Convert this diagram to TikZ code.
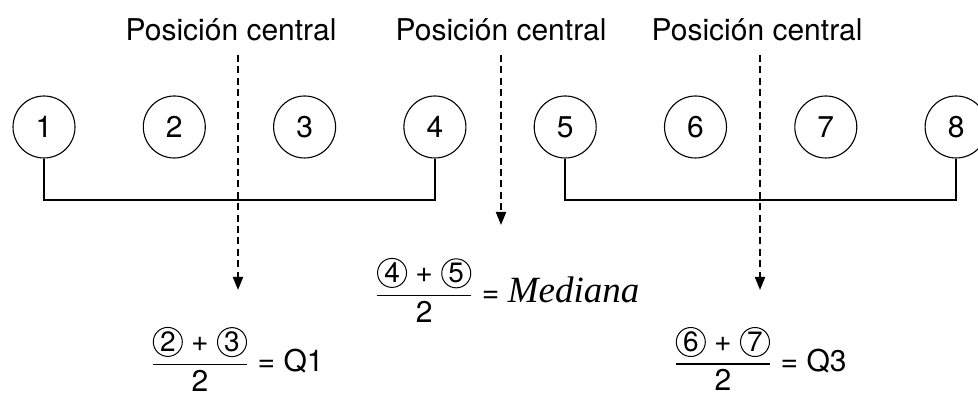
\documentclass[tikz,border=0pt]{standalone}
\usepackage{amsmath}
\usepackage{fontspec}
\setmainfont{TeX Gyre Heros}
\newfontfamily\serifit{Liberation Serif}
\usetikzlibrary{arrows.meta, positioning, calc}
\newcommand{\cnum}[1]{\tikz[baseline=(cn.base)]\node[circle, draw, line width=0.5pt, inner sep=0pt, minimum size=14.5pt, font=\fontsize{14}{14}\selectfont] (cn) {#1};}

\begin{document}
\begin{tikzpicture}[x=0.5pt, y=0.5pt,
  dato/.style={circle, draw, line width=0.55pt, minimum size=31pt, inner sep=0pt, font=\fontsize{15}{18}\selectfont},
  etiqueta/.style={font=\fontsize{15}{18}\selectfont},
  flecha/.style={line width=1pt, dash pattern=on 3.5pt off 2.2pt, -{Triangle[width=5pt,length=6.5pt]}},
  corchete/.style={line width=0.9pt},
  formula/.style={font=\fontsize{15}{18}\selectfont}]
  \useasboundingbox (0,0) rectangle (978,394);
  % datos ordenados
  \foreach \i in {1,...,8}
    \node[dato] (d\i) at ({44+130.3*(\i-1)}, 267) {\i};
  % las dos mitades
  \coordinate (b) at (0,194);
  \draw[corchete] (d1.south) -- (d1.south |- b) -| (d4.south);
  \draw[corchete] (d5.south) -- (d5.south |- b) -| (d8.south);
  % posiciones centrales
  \node[etiqueta] (pc1) at (231,364) {Posición central};
  \node[etiqueta] (pc2) at (501,364) {Posición central};
  \node[etiqueta] (pc3) at (757,364) {Posición central};
  \coordinate (s1) at (238,339); \coordinate (e1) at (238,104);
  \coordinate (s2) at (501,339); \coordinate (e2) at (501,169);
  \coordinate (s3) at (760,339); \coordinate (e3) at (760,104);
  \draw[flecha] (s1) -- (e1);
  \draw[flecha] (s2) -- (e2);
  \draw[flecha] (s3) -- (e3);
  % resultados
  \node[formula] (q1) at (237,35) {$\dfrac{\text{\cnum{2} + \cnum{3}}}{\text{2}}$ = Q1};
  \node[formula] (med) at (507,104) {$\dfrac{\text{\cnum{4} + \cnum{5}}}{\text{2}}$ = {\serifit\itshape\fontsize{18.5}{20}\selectfont Mediana}};
  \node[formula] (q3) at (760,35) {$\dfrac{\text{\cnum{6} + \cnum{7}}}{\text{2}}$ = Q3};
\end{tikzpicture}
\end{document}
